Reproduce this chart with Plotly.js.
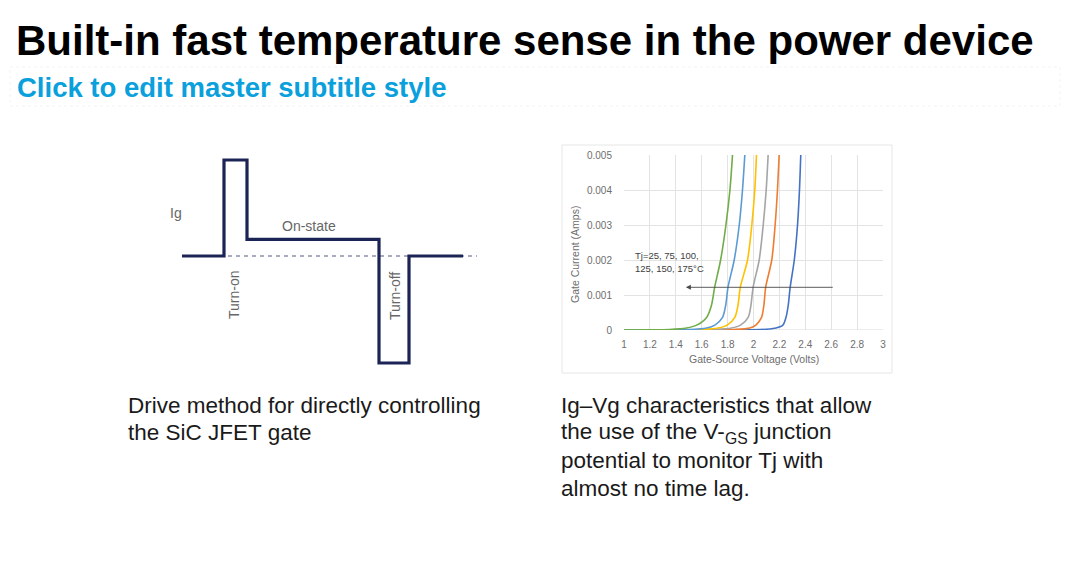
<!DOCTYPE html>
<html>
<head>
<meta charset="utf-8">
<script src="https://cdn.plot.ly/plotly-3.0.1.min.js"></script>
<style>
  html, body { margin: 0; padding: 0; background: #ffffff; }
  #chart { width: 1080px; height: 570px; }
</style>
</head>
<body>
<div id="chart"></div>
<script>
// ---------------- Data ----------------
// Ig-Vg curves (Gate-Source Voltage in Volts, Gate Current in Amps)
const seriesNames = ["Tj=25°C", "Tj=75°C", "Tj=100°C", "Tj=125°C", "Tj=150°C", "Tj=175°C"];
const seriesColors = ["#4472C4", "#ED7D31", "#A5A5A5", "#FFC000", "#5B9BD5", "#70AD47"];

const vg25  = [1.0, 1.8, 2.05, 2.165, 2.225, 2.250, 2.268, 2.283, 2.315, 2.340, 2.355, 2.365];
const ig25  = [0, 0.000001, 0.00001, 0.00005, 0.00013, 0.00035, 0.0007, 0.00122, 0.002, 0.003, 0.004, 0.005];
const vg75  = [1.0, 1.6, 1.85, 1.972, 2.018, 2.062, 2.080, 2.094, 2.141, 2.167, 2.185, 2.198];
const ig75  = [0, 0.000002, 0.000015, 0.000057, 0.00014, 0.00036, 0.0007, 0.00122, 0.002, 0.003, 0.004, 0.005];
const vg100 = [1.0, 1.5, 1.7, 1.831, 1.900, 1.959, 1.980, 1.997, 2.044, 2.075, 2.098, 2.113];
const ig100 = [0, 0.000003, 0.000015, 0.000057, 0.00014, 0.00036, 0.0007, 0.00122, 0.002, 0.003, 0.004, 0.005];
const vg125 = [1.0, 1.4, 1.6, 1.728, 1.797, 1.856, 1.880, 1.898, 1.954, 1.987, 2.010, 2.023];
const ig125 = [0, 0.000003, 0.000015, 0.000057, 0.00014, 0.00036, 0.0007, 0.00122, 0.002, 0.003, 0.004, 0.005];
const vg150 = [1.0, 1.3, 1.5, 1.638, 1.702, 1.761, 1.785, 1.803, 1.851, 1.890, 1.915, 1.933];
const ig150 = [0, 0.000003, 0.000012, 0.000057, 0.00014, 0.00036, 0.0007, 0.00122, 0.002, 0.003, 0.004, 0.005];
const vg175 = [1.0, 1.2, 1.35, 1.483, 1.561, 1.638, 1.675, 1.700, 1.746, 1.787, 1.818, 1.838];
const ig175 = [0, 0.000004, 0.000015, 0.000057, 0.00014, 0.00036, 0.0007, 0.00122, 0.002, 0.003, 0.004, 0.005];

const xTicks = [1, 1.2, 1.4, 1.6, 1.8, 2, 2.2, 2.4, 2.6, 2.8, 3];
const yTicks = [0, 0.001, 0.002, 0.003, 0.004, 0.005];
const yTickText = ["0", "0.001", "0.002", "0.003", "0.004", "0.005"];

// Arrow on the curves chart: from tail voltage to head voltage at a current level
const arrowTailV = 2.635, arrowHeadV = 1.478, arrowI = 0.00122;

// Gate drive waveform (arbitrary time units, arbitrary current units)
const waveT = [12, 54, 54, 77, 77, 209, 209, 239, 239, 293];
const waveIg = [0, 0, 96, 96, 16.7, 16.7, -107, -107, 0, 0];
const zeroT = [58, 307];
const zeroIg = [0, 0];

// Texts
const titleText = "Built-in fast temperature sense in the power device";
const subtitleText = "Click to edit master subtitle style";
const leftCaption = ["Drive method for directly controlling", "the SiC JFET gate"];
const rightCaption = ["Ig–Vg characteristics that allow", "the use of the V-<sub>GS</sub> junction", "potential to monitor Tj with", "almost no time lag."];
const tjLabel = ["Tj=25, 75, 100,", "125, 150, 175°C"];

// ---------------- Layout helpers ----------------
const W = 1080, H = 570;
const px = x => x / W;
const py = y => 1 - y / H;
const FONT = "Liberation Sans, Arial, sans-serif";

const curveX = [vg25, vg75, vg100, vg125, vg150, vg175];
const curveY = [ig25, ig75, ig100, ig125, ig150, ig175];

const traces = curveX.map((xs, i) => ({
  type: "scatter", mode: "lines",
  x: xs, y: curveY[i], name: seriesNames[i],
  line: { color: seriesColors[i], width: 1.6, shape: "spline", smoothing: 0.8 },
  xaxis: "x", yaxis: "y", hoverinfo: "x+y+name", cliponaxis: true
}));

traces.push({
  type: "scatter", mode: "lines", x: zeroT, y: zeroIg,
  line: { color: "#8a8fb0", width: 1.3, dash: "4px,4px" },
  xaxis: "x2", yaxis: "y2", hoverinfo: "skip"
});
traces.push({
  type: "scatter", mode: "lines", x: waveT, y: waveIg,
  line: { color: "#1c2455", width: 3.2 },
  xaxis: "x2", yaxis: "y2", hoverinfo: "skip"
});

const tickFont = { family: FONT, size: 10, color: "#6e6e6e" };
const annotations = [];

annotations.push({
  xref: "paper", yref: "paper", x: px(14), y: py(40), xanchor: "left", yanchor: "middle",
  text: "<b>" + titleText + "</b>", showarrow: false,
  font: { family: FONT, size: 42, color: "#000000" }
});
annotations.push({
  xref: "paper", yref: "paper", x: px(15), y: py(87), xanchor: "left", yanchor: "middle",
  text: "<b>" + subtitleText + "</b>", showarrow: false,
  font: { family: FONT, size: 27.5, color: "#0aa0dc" }
});
leftCaption.forEach((t, i) => annotations.push({
  xref: "paper", yref: "paper", x: px(126), y: py(405 + i * 27.7), xanchor: "left", yanchor: "middle",
  text: t, showarrow: false,
  font: { family: FONT, size: 22.5, color: "#1a1a1a" }
}));
rightCaption.forEach((t, i) => annotations.push({
  xref: "paper", yref: "paper", x: px(559), y: py(405 + i * 27.7), xanchor: "left", yanchor: "middle",
  text: t, showarrow: false,
  font: { family: FONT, size: 22.5, color: "#1a1a1a" }
}));
tjLabel.forEach((t, i) => annotations.push({
  xref: "paper", yref: "paper", x: px(633), y: py(255 + i * 13), xanchor: "left", yanchor: "middle",
  text: t, showarrow: false,
  font: { family: FONT, size: 9.5, color: "#404040" }
}));
annotations.push({
  xref: "x", yref: "y", axref: "x", ayref: "y",
  x: arrowHeadV, y: arrowI, ax: arrowTailV, ay: arrowI,
  text: " ", showarrow: true, arrowhead: 2, arrowsize: 1.1, arrowwidth: 0.9, arrowcolor: "#4a4a4a"
});
// waveform labels
annotations.push({
  xref: "paper", yref: "paper", x: px(176), y: py(213), xanchor: "center", yanchor: "middle",
  text: "Ig", showarrow: false,
  font: { family: FONT, size: 14, color: "#666666" }
});
annotations.push({
  xref: "paper", yref: "paper", x: px(309), y: py(226), xanchor: "center", yanchor: "middle",
  text: "On-state", showarrow: false,
  font: { family: FONT, size: 14, color: "#666666" }
});
annotations.push({
  xref: "paper", yref: "paper", x: px(234), y: py(295), xanchor: "center", yanchor: "middle",
  text: "Turn-on", showarrow: false, textangle: -90,
  font: { family: FONT, size: 14, color: "#666666" }
});
annotations.push({
  xref: "paper", yref: "paper", x: px(395), y: py(296), xanchor: "center", yanchor: "middle",
  text: "Turn-off", showarrow: false, textangle: -90,
  font: { family: FONT, size: 14, color: "#666666" }
});
annotations.push({
  xref: "paper", yref: "paper", x: px(575), y: py(255), xanchor: "center", yanchor: "middle",
  text: "Gate Current (Amps)", showarrow: false, textangle: -90,
  font: { family: FONT, size: 10.5, color: "#6e6e6e" }
});
annotations.push({
  xref: "paper", yref: "paper", x: px(754), y: py(359), xanchor: "center", yanchor: "middle",
  text: "Gate-Source Voltage (Volts)", showarrow: false,
  font: { family: FONT, size: 10.5, color: "#6e6e6e" }
});

const layout = {
  width: W, height: H,
  margin: { l: 0, r: 0, t: 0, b: 0, pad: 0 },
  paper_bgcolor: "#ffffff", plot_bgcolor: "rgba(0,0,0,0)",
  showlegend: false,
  xaxis: {
    domain: [px(624), px(883)], range: [1, 3], tickvals: xTicks,
    showgrid: true, gridcolor: "#e3e3e3", gridwidth: 1, zeroline: false,
    showline: false, ticks: "outside", ticklen: 5, tickcolor: "rgba(0,0,0,0)",
    tickfont: tickFont, anchor: "y", fixedrange: true
  },
  yaxis: {
    domain: [py(330), py(155)], range: [0, 0.005], tickvals: yTicks, ticktext: yTickText,
    showgrid: true, gridcolor: "#e3e3e3", gridwidth: 1, zeroline: false,
    showline: false, ticks: "outside", ticklen: 9, tickcolor: "rgba(0,0,0,0)",
    tickfont: tickFont, anchor: "x", fixedrange: true
  },
  xaxis2: {
    domain: [px(170), px(480)], range: [0, 310], visible: false, anchor: "y2", fixedrange: true
  },
  yaxis2: {
    domain: [py(370), py(150)], range: [-114, 106], visible: false, anchor: "x2", fixedrange: true
  },
  shapes: [
    { type: "rect", xref: "paper", yref: "paper", x0: px(562), x1: px(892), y0: py(373), y1: py(145),
      line: { color: "#e6e6e6", width: 1 }, fillcolor: "rgba(0,0,0,0)", layer: "below" },
    { type: "rect", xref: "paper", yref: "paper", x0: px(10), x1: px(1060), y0: py(106), y1: py(67),
      line: { color: "#f3f3f3", width: 1, dash: "dot" }, fillcolor: "rgba(0,0,0,0)", layer: "below" },
    { type: "line", xref: "x", yref: "y", x0: 1, x1: 3, y0: 0, y1: 0,
      line: { color: "#d9d9d9", width: 1 }, layer: "below" }
  ],
  annotations: annotations
};

Plotly.newPlot("chart", traces, layout, { displayModeBar: false, staticPlot: true });
</script>
</body>
</html>
